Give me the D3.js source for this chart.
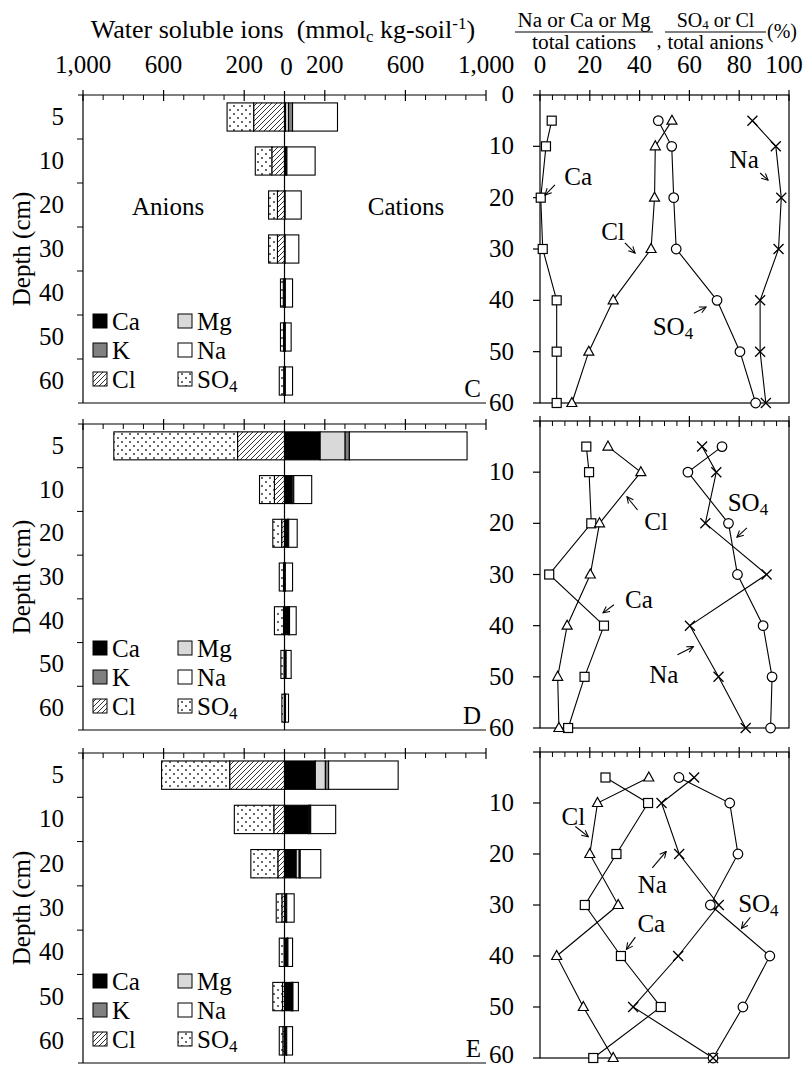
<!DOCTYPE html>
<html>
<head>
<meta charset="utf-8">
<script src="https://cdn.jsdelivr.net/npm/d3@7"></script>
<style>
  body { margin: 0; background: #fff; }
  svg text { font-family: 'Liberation Serif', 'DejaVu Serif', serif; fill: #000; }
</style>
</head>
<body>
<svg id="chart" width="807" height="1068" font-family="Liberation Serif"></svg>
<script>
const depths = [5, 10, 20, 30, 40, 50, 60];
const panelNames = ['C', 'D', 'E'];

// water soluble ions, mmolc/kg soil
const caC = [5, 4, 1, 1, 2, 2, 2];
const mgC = [15, 4, 1, 1, 1, 1, 1];
const kC = [20, 4, 1, 1, 1, 1, 1];
const naC = [223, 140, 80, 68, 36, 29, 36];
const clC = [153, 63, 35, 35, 6, 5, 4];
const so4C = [132, 82, 44, 44, 14, 15, 22];

const caD = [177, 33, 15, 2, 18, 6, 3];
const mgD = [124, 5, 3, 1, 4, 1, 1];
const kD = [21, 8, 3, 1, 3, 1, 1];
const naD = [584, 89, 42, 36, 33, 25, 15];
const clD = [233, 50, 14, 5, 5, 2, 1];
const so4D = [614, 74, 44, 21, 45, 16, 12];

const caE = [153, 120, 58, 9, 13, 34, 9];
const mgE = [50, 5, 15, 1, 2, 4, 1];
const kE = [16, 5, 5, 1, 2, 4, 1];
const naE = [345, 124, 102, 37, 23, 27, 29];
const clE = [272, 53, 33, 13, 2, 10, 8];
const so4E = [338, 196, 134, 28, 24, 48, 18];

// share of total cations / anions, %
const pCaC = [4.7, 2.4, 0.3, 1.1, 6.7, 6.7, 6.7];
const pClC = [53, 46.3, 46, 44.6, 29.4, 19.6, 12.8];
const pSo4C = [47.5, 52.9, 53.7, 54.7, 71.1, 80.3, 86.6];
const pNaC = [85.3, 94.7, 96.9, 95.8, 88.4, 88.4, 90.7];

const pCaD = [18.6, 19.7, 20.6, 3.7, 25.7, 17.9, 11.3];
const pClD = [27.3, 40.5, 23.9, 20.2, 10.9, 7.1, 7.6];
const pSo4D = [73.1, 59.4, 75.7, 79.3, 89.6, 93.2, 92.6];
const pNaD = [65.1, 70.8, 66.4, 91, 60.2, 71.7, 82.6];

const pCaE = [26.3, 43.4, 30.7, 18, 32.5, 48.5, 21.4];
const pClE = [43.7, 23.1, 20, 31.4, 6.7, 17.4, 29.4];
const pSo4E = [55.8, 76.2, 79.5, 68.4, 92.3, 81.5, 69.5];
const pNaE = [61.9, 48.8, 55.9, 71.8, 55.5, 37.4, 69.5];

const ionTicks = [-1000, -600, -200, 0, 200, 600, 1000];
const ionTickLabels = ['1,000', '600', '200', '0', '200', '600', '1,000'];
const pctTicks = [0, 20, 40, 60, 80, 100];
const depthTicks = [0, 10, 20, 30, 40, 50, 60];

// text labels on the line plots: [label, x%, depth, arrow from, arrow to]
const notesC = [
  ['Ca', 15.3, 16, [6, 17.5], [2, 19.5]],
  ['Na', 82, 12.7, [88.4, 15.2], [91.6, 16.6]],
  ['Cl', 29.3, 26.7, [34.1, 28.8], [38.2, 30.8]],
  ['SO4', 53.4, 45.2, [61.8, 42.5], [66.7, 41.3]]
];
const notesD = [
  ['Cl', 46.6, 19.7, [39.2, 17.4], [34.9, 14.8]],
  ['SO4', 83.5, 16, [83.1, 20.9], [79.1, 22.7]],
  ['Ca', 39.7, 35, [29.7, 35.9], [25.3, 37.5]],
  ['Na', 49.7, 49.6, [55.2, 45.7], [61.6, 44.1]]
];
const notesE = [
  ['Cl', 13.4, 12.7, [14.2, 14.6], [19.4, 16.6]],
  ['Na', 45.1, 26, [45.1, 22.7], [50.7, 19.5]],
  ['SO4', 87.7, 29.9, [84.5, 32.4], [80.9, 34.6]],
  ['Ca', 44.7, 33.8, [38.3, 36.3], [34.7, 38.7]]
];

const ionTable = [
  { Ca: caC, Mg: mgC, K: kC, Na: naC, Cl: clC, SO4: so4C },
  { Ca: caD, Mg: mgD, K: kD, Na: naD, Cl: clD, SO4: so4D },
  { Ca: caE, Mg: mgE, K: kE, Na: naE, Cl: clE, SO4: so4E }
];
const pctTable = [
  { Ca: pCaC, Cl: pClC, SO4: pSo4C, Na: pNaC },
  { Ca: pCaD, Cl: pClD, SO4: pSo4D, Na: pNaD },
  { Ca: pCaE, Cl: pClE, SO4: pSo4E, Na: pNaE }
];
const noteTable = [notesC, notesD, notesE];

const svg = d3.select('#chart');
const fs = 25;

// layout
const leftBox = [[95, 403], [424, 730], [753, 1063]];
const rightBox = [[95, 403], [421, 728], [752, 1058]];
const xIon = d3.scaleLinear().domain([-1000, 1000]).range([83, 486]);
const xPct = d3.scaleLinear().domain([0, 100]).range([540, 789]);

// fills
const defs = svg.append('defs');
const hatch = defs.append('pattern').attr('id', 'hatch')
  .attr('patternUnits', 'userSpaceOnUse').attr('width', 5).attr('height', 5);
hatch.append('rect').attr('width', 5).attr('height', 5).attr('fill', '#fff');
hatch.append('path').attr('d', 'M-1,1 l2,-2 M0,5 l5,-5 M4,6 l2,-2')
  .attr('stroke', '#333').attr('stroke-width', 1);
const dots = defs.append('pattern').attr('id', 'dots')
  .attr('patternUnits', 'userSpaceOnUse').attr('width', 8).attr('height', 8);
dots.append('rect').attr('width', 8).attr('height', 8).attr('fill', '#fff');
dots.append('circle').attr('cx', 2).attr('cy', 2).attr('r', 0.9).attr('fill', '#222');
dots.append('circle').attr('cx', 6).attr('cy', 6).attr('r', 0.9).attr('fill', '#222');

defs.append('marker').attr('id', 'arrow')
  .attr('viewBox', '0 0 10 10').attr('refX', 9).attr('refY', 5)
  .attr('markerWidth', 8).attr('markerHeight', 8)
  .attr('markerUnits', 'userSpaceOnUse').attr('orient', 'auto')
  .append('path').attr('d', 'M1,1 L9,5 L1,9')
  .attr('fill', 'none').attr('stroke', '#000').attr('stroke-width', 1.3);

const fills = { Ca: '#000', Mg: '#d9d9d9', K: '#808080', Na: '#fff', Cl: 'url(#hatch)', SO4: 'url(#dots)' };

function subText(sel, label) {
  if (label === 'SO4') {
    sel.text('SO');
    sel.append('tspan').attr('font-size', fs * 0.68).attr('baseline-shift', '-25%').text('4');
  } else sel.text(label);
}

// header
const title = svg.append('text').attr('x', 283).attr('y', 38)
  .attr('text-anchor', 'middle').attr('font-size', 26);
title.append('tspan').text('Water soluble ions\u00a0 (mmol');
title.append('tspan').attr('font-size', 17).attr('baseline-shift', '-25%').text('c');
title.append('tspan').text(' kg-soil');
title.append('tspan').attr('font-size', 17).attr('baseline-shift', '55%').text('-1');
title.append('tspan').text(')');

function fraction(x0, x1, top, bottom, w2) {
  const cx = (x0 + x1) / 2;
  const t = svg.append('text').attr('x', cx).attr('y', 27).attr('text-anchor', 'middle')
    .attr('font-size', 20);
  top(t);
  svg.append('line').attr('x1', x0).attr('x2', x1).attr('y1', 32).attr('y2', 32)
    .attr('stroke', '#000').attr('stroke-width', 1.2);
  svg.append('text').attr('x', cx).attr('y', 49).attr('text-anchor', 'middle')
    .attr('font-size', 20).attr('textLength', w2).attr('lengthAdjust', 'spacingAndGlyphs')
    .text(bottom);
}
fraction(515, 653, t => t.text('Na or Ca or Mg').attr('textLength', 133).attr('lengthAdjust', 'spacingAndGlyphs'), 'total cations', 104);
fraction(665, 766, t => {
  t.text('SO');
  t.append('tspan').attr('font-size', 13).attr('baseline-shift', '-12%').text('4');
  t.append('tspan').text(' or Cl');
}, 'total anions', 96);
svg.append('text').attr('x', 659).attr('y', 47).attr('text-anchor', 'middle').attr('font-size', 20).text(',');
svg.append('text').attr('x', 782).attr('y', 38).attr('text-anchor', 'middle').attr('font-size', 20).text('(%)');

svg.selectAll('.ionLab').data(ionTicks).join('text')
  .attr('x', d => xIon(d) + (d === 0 ? 2 : 0)).attr('y', d => d === 0 ? 75 : 73)
  .attr('text-anchor', 'middle').attr('font-size', fs)
  .text((d, i) => ionTickLabels[i]);
svg.selectAll('.pctLab').data(pctTicks).join('text')
  .attr('x', d => xPct(d) - (d === 100 ? 5 : 0)).attr('y', 73)
  .attr('text-anchor', 'middle').attr('font-size', fs)
  .text(d => d);

const stack = d3.stack().keys(['Ca', 'Mg', 'K', 'Na', 'Cl', 'SO4'])
  .value((d, k) => (k === 'Cl' || k === 'SO4') ? -d[k] : d[k])
  .offset(d3.stackOffsetDiverging);

const legendItems = [['Ca', 0, 0], ['K', 0, 1], ['Cl', 0, 2], ['Mg', 1, 0], ['Na', 1, 1], ['SO4', 1, 2]];

panelNames.forEach((name, p) => {
  const [top, bottom] = leftBox[p];
  const g = svg.append('g');

  // ---- left: stacked bars
  const yBand = d3.scaleBand().domain(depths).range([top, bottom])
    .paddingInner(0.36).paddingOuter(0.18);
  const rows = depths.map((d, i) => {
    const r = { depth: d };
    Object.keys(ionTable[p]).forEach(k => { r[k] = ionTable[p][k][i]; });
    return r;
  });
  const series = stack(rows);
  series.forEach(s => {
    g.append('g').selectAll('rect').data(s).join('rect')
      .attr('x', d => xIon(Math.min(d[0], d[1])))
      .attr('width', d => Math.abs(xIon(d[1]) - xIon(d[0])))
      .attr('y', d => yBand(d.data.depth))
      .attr('height', yBand.bandwidth())
      .attr('fill', fills[s.key])
      .attr('stroke', '#000').attr('stroke-width', 1.1);
  });

  // frame and axes
  g.append('line').attr('x1', 78).attr('x2', 486).attr('y1', top).attr('y2', top).attr('stroke', '#000').attr('stroke-width', 1.2);
  g.append('line').attr('x1', 78).attr('x2', 486).attr('y1', bottom).attr('y2', bottom).attr('stroke', '#000').attr('stroke-width', 1.2);
  g.append('line').attr('x1', 83).attr('x2', 83).attr('y1', top).attr('y2', bottom).attr('stroke', '#000').attr('stroke-width', 1.2);
  g.append('line').attr('x1', xIon(0)).attr('x2', xIon(0)).attr('y1', top - 4).attr('y2', bottom).attr('stroke', '#000').attr('stroke-width', 1.2);
  const minor = d3.range(-1000, 1001, 100).filter(v => v !== 0 && !ionTicks.includes(v));
  g.selectAll('.mn').data(minor).join('line')
    .attr('x1', d => xIon(d)).attr('x2', d => xIon(d)).attr('y1', top).attr('y2', top + 5)
    .attr('stroke', '#000');
  g.selectAll('.mj').data(ionTicks.filter(v => v !== 0)).join('line')
    .attr('x1', d => xIon(d)).attr('x2', d => xIon(d)).attr('y1', top - 5).attr('y2', top + 6)
    .attr('stroke', '#000').attr('stroke-width', 1.2);
  const step = yBand.step();
  g.selectAll('.dt').data(d3.range(1, depths.length)).join('line')
    .attr('x1', 77).attr('x2', 83).attr('y1', i => top + i * step).attr('y2', i => top + i * step)
    .attr('stroke', '#000');
  g.selectAll('.dl').data(depths).join('text')
    .attr('x', 64).attr('y', d => yBand(d) + yBand.bandwidth() / 2 + 8)
    .attr('text-anchor', 'end').attr('font-size', fs).text(d => d);
  g.append('text').attr('transform', `translate(30,${(top + bottom) / 2}) rotate(-90)`)
    .attr('text-anchor', 'middle').attr('font-size', fs).text('Depth (cm)');

  if (p === 0) {
    g.append('text').attr('x', 168).attr('y', 215).attr('text-anchor', 'middle').attr('font-size', fs).text('Anions');
    g.append('text').attr('x', 406).attr('y', 215).attr('text-anchor', 'middle').attr('font-size', fs).text('Cations');
  }
  g.append('text').attr('x', 481).attr('y', bottom - 6).attr('text-anchor', 'end').attr('font-size', fs).text(name);

  // legend
  const legTop = bottom - 89;
  legendItems.forEach(([k, col, row]) => {
    const lx = col === 0 ? 93 : 178;
    const ly = legTop + row * 29;
    g.append('rect').attr('x', lx).attr('y', ly).attr('width', 14).attr('height', 14)
      .attr('fill', fills[k]).attr('stroke', '#000').attr('stroke-width', 1);
    const t = g.append('text').attr('x', lx + 19).attr('y', ly + 16).attr('font-size', fs);
    subText(t, k);
  });

  // ---- right: percentage profiles
  const [rTop, rBottom] = rightBox[p];
  const yDep = d3.scaleLinear().domain([0, 60]).range([rTop, rBottom]);
  const rg = svg.append('g');
  rg.append('rect').attr('x', xPct(0)).attr('y', rTop).attr('width', xPct(100) - xPct(0))
    .attr('height', rBottom - rTop).attr('fill', 'none').attr('stroke', '#000').attr('stroke-width', 1.2);
  rg.selectAll('.pm').data(d3.range(5, 100, 5).filter(v => v % 20 !== 0)).join('line')
    .attr('x1', d => xPct(d)).attr('x2', d => xPct(d)).attr('y1', rTop).attr('y2', rTop + 5)
    .attr('stroke', '#000');
  rg.selectAll('.pj').data(pctTicks).join('line')
    .attr('x1', d => xPct(d)).attr('x2', d => xPct(d)).attr('y1', rTop - 5).attr('y2', rTop + 6)
    .attr('stroke', '#000').attr('stroke-width', 1.2);
  rg.selectAll('.yt').data(depthTicks).join('line')
    .attr('x1', xPct(0) - 7).attr('x2', xPct(0)).attr('y1', d => yDep(d)).attr('y2', d => yDep(d))
    .attr('stroke', '#000').attr('stroke-width', 1.2);
  rg.selectAll('.yl').data(p === 0 ? depthTicks : depthTicks.slice(1)).join('text')
    .attr('x', 514).attr('y', d => Math.min(yDep(d) + 8, 1063))
    .attr('text-anchor', 'end').attr('font-size', fs).text(d => d);

  const line = d3.line().x(d => xPct(d[0])).y(d => yDep(d[1]));
  const keys = ['Ca', 'Cl', 'SO4', 'Na'];
  keys.forEach(k => {
    const pts = depths.map((d, i) => [pctTable[p][k][i], d]);
    rg.append('path').attr('d', line(pts)).attr('fill', 'none')
      .attr('stroke', '#000').attr('stroke-width', 1.1);
  });
  keys.forEach(k => {
    const pts = depths.map((d, i) => [pctTable[p][k][i], d]);
    const mg = rg.append('g').selectAll('g').data(pts).join('g')
      .attr('transform', d => `translate(${xPct(d[0])},${yDep(d[1])})`);
    if (k === 'Ca') {
      mg.append('rect').attr('x', -4.5).attr('y', -4.5).attr('width', 9).attr('height', 9)
        .attr('fill', '#fff').attr('stroke', '#000').attr('stroke-width', 1.2);
    } else if (k === 'Cl') {
      mg.append('path').attr('d', 'M0,-5.5 L5,3.5 L-5,3.5 Z')
        .attr('fill', '#fff').attr('stroke', '#000').attr('stroke-width', 1.2);
    } else if (k === 'SO4') {
      mg.append('circle').attr('r', 4.8)
        .attr('fill', '#fff').attr('stroke', '#000').attr('stroke-width', 1.2);
    } else {
      mg.append('path').attr('d', 'M-5,-5 L5,5 M-5,5 L5,-5')
        .attr('stroke', '#000').attr('stroke-width', 1.3);
    }
  });

  noteTable[p].forEach(([label, nx, ny, a0, a1]) => {
    const t = rg.append('text').attr('x', xPct(nx)).attr('y', yDep(ny) + 8)
      .attr('text-anchor', 'middle').attr('font-size', fs);
    subText(t, label);
    rg.append('line')
      .attr('x1', xPct(a0[0])).attr('y1', yDep(a0[1]))
      .attr('x2', xPct(a1[0])).attr('y2', yDep(a1[1]))
      .attr('stroke', '#000').attr('stroke-width', 1.1)
      .attr('marker-end', 'url(#arrow)');
  });
});
</script>
</body>
</html>
